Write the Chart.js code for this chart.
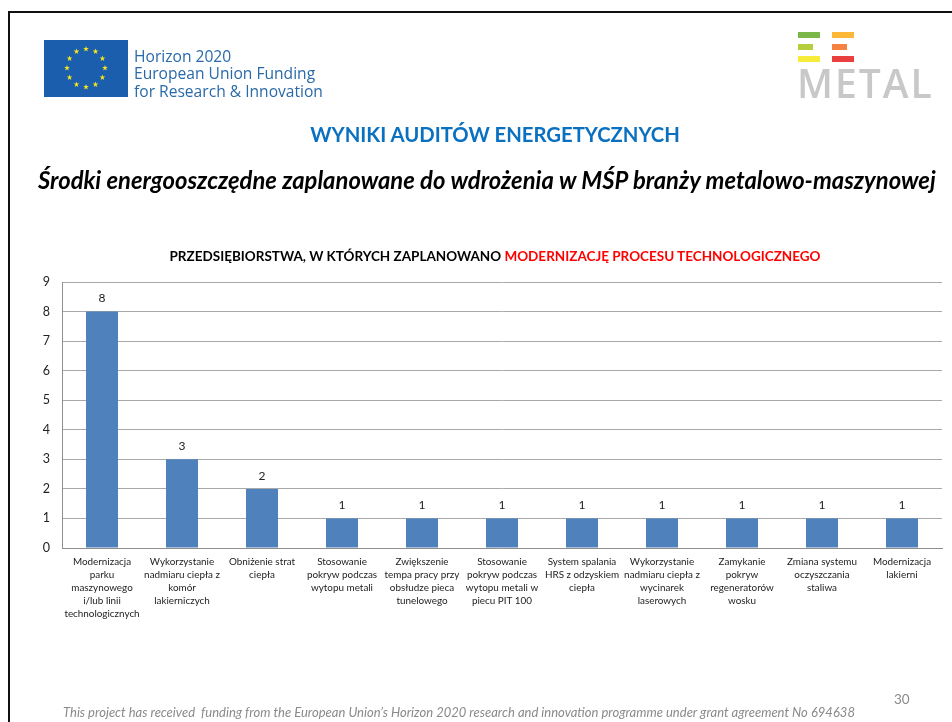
<!DOCTYPE html>
<html lang="pl"><head><meta charset="utf-8">
<style>
html,body{margin:0;padding:0;background:#fff;width:952px;height:722px;overflow:hidden;font-family:Lato,'Open Sans',sans-serif}
#frame{position:absolute;left:8px;top:11px;width:960px;height:730px;border:2px solid #111;box-sizing:border-box}
canvas{position:absolute;left:0;top:0}
.t{position:absolute;white-space:nowrap}
#eu{position:absolute;left:44px;top:40px;width:84px;height:57px;background:#1b5eae}
#bars div{position:absolute;height:6px}
</style></head><body>
<div id="frame"></div>
<div style="position:absolute;left:0;top:0;width:952px;height:722px"><canvas id="c" width="952" height="722" style="width:952px;height:722px"></canvas></div>

<svg id="eu" viewBox="0 0 84 57" aria-hidden="true"><g id="stars" fill="#f6e51e"></g></svg>
<div class="t" style="left:134px;top:48px;font:15.6px/17.3px 'Open Sans',sans-serif;color:#2a6aa8">Horizon 2020<br>European Union Funding<br>for Research &amp; Innovation</div>

<div id="bars">
<div style="left:798px;top:32px;width:22px;background:#7ab648"></div>
<div style="left:798px;top:44px;width:15px;background:#b5cf3c"></div>
<div style="left:798px;top:56px;width:22px;background:#f8ec3a"></div>
<div style="left:832px;top:32px;width:22px;background:#fbb735"></div>
<div style="left:832px;top:44px;width:15px;background:#f58240"></div>
<div style="left:832px;top:56px;width:22px;background:#e93f3f"></div>
</div>
<div class="t" style="left:797px;top:60px;font:600 39px/46px 'Open Sans',sans-serif;color:#c8c8c8;letter-spacing:2px">METAL</div>

<div class="t" style="left:0;width:990px;text-align:center;top:122px;font:700 20.3px/24px Lato,sans-serif;color:#0a70c0">WYNIKI AUDITÓW ENERGETYCZNYCH</div>
<div class="t" style="left:38px;top:166px;font:italic 700 23.8px/28px Lato,sans-serif;color:#000">Środki energooszczędne zaplanowane do wdrożenia w MŚP branży metalowo-maszynowej</div>
<div class="t" style="left:0;width:990px;text-align:center;top:248px;font:700 13.5px/16px Lato,sans-serif;color:#000">PRZEDSIĘBIORSTWA, W KTÓRYCH ZAPLANOWANO <span style="color:#ff0000">MODERNIZACJĘ PROCESU TECHNOLOGICZNEGO</span></div>
<div class="t" style="left:63px;top:705px;font:italic 13px/15px Lato,sans-serif;color:#8a8a8a">This project has received&nbsp; funding from the European Union’s Horizon 2020 research and innovation programme under grant agreement No 694638</div>
<div class="t" style="left:894px;top:690px;font:13.5px/18px Lato,sans-serif;color:#8a8a8a">30</div>

<script src="https://cdn.jsdelivr.net/npm/chart.js@4"></script>
<script>
const categories = [
  ["Modernizacja","parku","maszynowego","i/lub linii","technologicznych"],
  ["Wykorzystanie","nadmiaru ciepła z","komór","lakierniczych"],
  ["Obniżenie strat","ciepła"],
  ["Stosowanie","pokryw podczas","wytopu metali"],
  ["Zwiększenie","tempa pracy przy","obsłudze pieca","tunelowego"],
  ["Stosowanie","pokryw podczas","wytopu metali w","piecu PIT 100"],
  ["System spalania","HRS z odzyskiem","ciepła"],
  ["Wykorzystanie","nadmiaru ciepła z","wycinarek","laserowych"],
  ["Zamykanie","pokryw","regeneratorów","wosku"],
  ["Zmiana systemu","oczyszczania","staliwa"],
  ["Modernizacja","lakierni"]
];
const values = [8,3,2,1,1,1,1,1,1,1,1];
const yMax = 9;

// EU flag stars
const starG = document.getElementById('stars');
for (let i = 0; i < 12; i++) {
  const a = i * Math.PI / 6, cx = 42 + 19 * Math.sin(a), cy = 28 - 19 * Math.cos(a);
  let p = '';
  for (let k = 0; k < 10; k++) {
    const r = k % 2 ? 1.2 : 3, b = k * Math.PI / 5;
    p += (cx + r * Math.sin(b)).toFixed(2) + ',' + (cy - r * Math.cos(b)).toFixed(2) + ' ';
  }
  const s = document.createElementNS('http://www.w3.org/2000/svg', 'polygon');
  s.setAttribute('points', p);
  starG.appendChild(s);
}

const valueLabels = {
  id: 'valueLabels',
  afterDatasetsDraw(chart) {
    const ctx = chart.ctx;
    const meta = chart.getDatasetMeta(0);
    ctx.save();
    ctx.font = '12px Lato, sans-serif';
    ctx.fillStyle = '#222';
    ctx.textAlign = 'center';
    ctx.textBaseline = 'bottom';
    meta.data.forEach((bar, i) => ctx.fillText(String(values[i]), bar.x, bar.y - 7));
    ctx.restore();
  }
};

new Chart(document.getElementById('c'), {
  type: 'bar',
  data: { labels: categories, datasets: [{ data: values, backgroundColor: '#4f81bd', categoryPercentage: 1, barPercentage: 0.4 }] },
  options: {
    responsive: false, animation: false, devicePixelRatio: 1,
    layout: { padding: { top: 282, right: 10, left: 0, bottom: 0 } },
    plugins: { legend: { display: false }, title: { display: false }, tooltip: { enabled: false } },
    scales: {
      x: {
        border: { color: '#8f8f8f', width: 1 },
        grid: { display: false, drawTicks: false },
        afterFit(s) { s.height = 174; },
        ticks: { autoSkip: false, maxRotation: 0, minRotation: 0, padding: 7, color: '#222',
                 font: { family: 'Lato, sans-serif', size: 9.9, lineHeight: 1.31 } }
      },
      y: {
        min: 0, max: yMax,
        border: { color: '#8f8f8f', width: 1 },
        grid: { color: '#a9a9a9', lineWidth: 1, drawTicks: false },
        afterFit(s) { s.width = 62; },
        ticks: { stepSize: 1, padding: 12, color: '#222', font: { family: 'Lato, sans-serif', size: 12.5 } }
      }
    }
  },
  plugins: [valueLabels]
});
</script>
</body></html>
